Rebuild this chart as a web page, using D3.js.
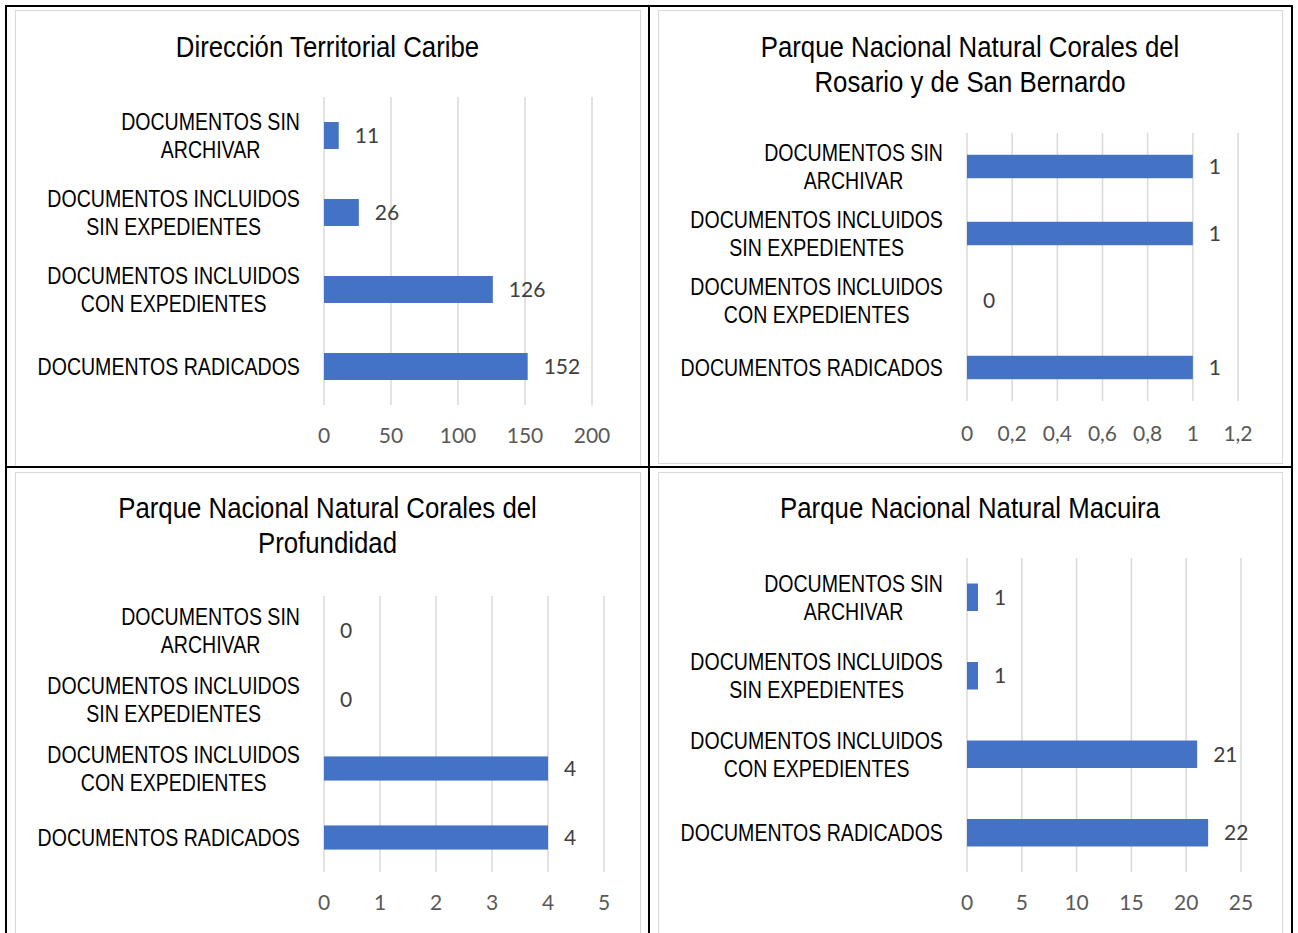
<!DOCTYPE html>
<html>
<head>
<meta charset="utf-8">
<script src="https://cdn.jsdelivr.net/npm/d3@7"></script>
<style>
  body { margin: 0; background: #fff; }
  svg { display: block; }
</style>
</head>
<body>
<div id="chart"></div>
<script>
// categories, top to bottom (split in lines the way the labels wrap)
const categories = [
  ["DOCUMENTOS SIN", "ARCHIVAR"],
  ["DOCUMENTOS INCLUIDOS", "SIN EXPEDIENTES"],
  ["DOCUMENTOS INCLUIDOS", "CON EXPEDIENTES"],
  ["DOCUMENTOS RADICADOS"]
];

// values per chart
const caribeValues = [11, 26, 126, 152];
const rosarioValues = [1, 1, 0, 1];
const profundidadValues = [0, 0, 4, 4];
const macuiraValues = [1, 1, 21, 22];

// tick labels
const caribeTicks = [0, 50, 100, 150, 200];
const rosarioTicks = [0, 0.2, 0.4, 0.6, 0.8, 1, 1.2];
const profundidadTicks = [0, 1, 2, 3, 4, 5];
const macuiraTicks = [0, 5, 10, 15, 20, 25];

// titles
const caribeTitle = ["Dirección Territorial Caribe"];
const rosarioTitle = ["Parque Nacional Natural Corales del", "Rosario y de San Bernardo"];
const profundidadTitle = ["Parque Nacional Natural Corales del", "Profundidad"];
const macuiraTitle = ["Parque Nacional Natural Macuira"];

const W = 1298, H = 933;
// Arial Narrow look: Liberation Sans squeezed horizontally
const narrow = "'Liberation Sans', Arial, sans-serif";
const tickFont = "Lato, Carlito, Calibri, 'Open Sans', sans-serif";
const commaFmt = (d) => String(d).replace(".", ",");

const svg = d3.select("#chart").append("svg")
  .attr("width", W).attr("height", H);

svg.append("rect").attr("width", W).attr("height", H).attr("fill", "#fff");

// layout of the four panels
const panels = [
  { title: caribeTitle, values: caribeValues, ticks: caribeTicks,
    box: [15, 10, 640, 466], titleY: 47, x: [324, 592], y: [97, 405], tickY: 436 },
  { title: rosarioTitle, values: rosarioValues, ticks: rosarioTicks,
    box: [658, 10, 1282, 463], titleY: 47, x: [967, 1238], y: [133, 401], tickY: 434 },
  { title: profundidadTitle, values: profundidadValues, ticks: profundidadTicks,
    box: [15, 472, 640, 960], titleY: 508, x: [324, 604], y: [596, 872], tickY: 903 },
  { title: macuiraTitle, values: macuiraValues, ticks: macuiraTicks,
    box: [658, 472, 1282, 960], titleY: 508, x: [967, 1241], y: [558, 872], tickY: 903 }
];

panels.forEach((p) => {
  const g = svg.append("g");

  // chart area border
  g.append("rect")
    .attr("x", p.box[0] + 0.5).attr("y", p.box[1] + 0.5)
    .attr("width", p.box[2] - p.box[0]).attr("height", p.box[3] - p.box[1])
    .attr("fill", "#fff").attr("stroke", "#d9d9d9").attr("stroke-width", 1);

  const cx = (p.box[0] + p.box[2]) / 2;
  g.selectAll(".title").data(p.title).enter()
    .append("text")
    .attr("transform", (d, i) => `translate(${cx},${p.titleY + i * 35}) scale(0.86,1)`)
    .attr("dy", "0.33em")
    .attr("text-anchor", "middle")
    .style("font-family", narrow)
    .style("font-size", "30px")
    .style("fill", "#000")
    .text((d) => d);

  const x = d3.scaleLinear()
    .domain([p.ticks[0], p.ticks[p.ticks.length - 1]])
    .range(p.x);
  const y = d3.scaleBand()
    .domain(d3.range(categories.length))
    .range(p.y)
    .paddingInner(0.65)
    .paddingOuter(0.325);

  // gridlines
  g.selectAll(".grid").data(p.ticks).enter()
    .append("line")
    .attr("x1", (d) => x(d)).attr("x2", (d) => x(d))
    .attr("y1", p.y[0]).attr("y2", p.y[1])
    .attr("stroke", "#d9d9d9").attr("stroke-width", 1.5);

  // tick labels
  g.selectAll(".tick").data(p.ticks).enter()
    .append("text")
    .attr("x", (d) => x(d))
    .attr("y", p.tickY)
    .attr("dy", "0.35em")
    .attr("text-anchor", "middle")
    .style("font-family", tickFont)
    .style("font-size", "21px")
    .style("fill", "#595959")
    .text(commaFmt);

  // bars
  g.selectAll(".bar").data(p.values).enter()
    .append("rect")
    .attr("x", x(0))
    .attr("y", (d, i) => y(i))
    .attr("width", (d) => x(d) - x(0))
    .attr("height", y.bandwidth())
    .attr("fill", "#4472c4");

  // data labels
  g.selectAll(".val").data(p.values).enter()
    .append("text")
    .attr("x", (d) => x(d) + 16)
    .attr("y", (d, i) => y(i) + y.bandwidth() / 2)
    .attr("dy", "0.35em")
    .style("font-family", tickFont)
    .style("font-size", "21px")
    .style("fill", "#404040")
    .text(commaFmt);

  // category labels: lines centred in a block right-aligned to the axis
  const sx = 0.85;
  categories.forEach((lines, i) => {
    const cy = y(i) + y.bandwidth() / 2;
    const texts = lines.map((line) => g.append("text")
      .attr("dy", "0.36em")
      .attr("text-anchor", "middle")
      .style("font-family", narrow)
      .style("font-size", "23px")
      .style("fill", "#000")
      .text(line));
    const blockW = d3.max(texts, (t) => t.node().getComputedTextLength()) * sx;
    const bx = p.x[0] - 24 - blockW / 2;
    texts.forEach((t, j) => t.attr("transform",
      `translate(${bx},${cy + (j - (lines.length - 1) / 2) * 28}) scale(${sx},1)`));
  });
});

// table borders
const borders = svg.append("g").attr("fill", "none").attr("stroke", "#000").attr("stroke-width", 2);
borders.append("rect").attr("x", 6).attr("y", 6).attr("width", 1286).attr("height", 960);
borders.append("line").attr("x1", 649).attr("x2", 649).attr("y1", 6).attr("y2", H);
borders.append("line").attr("x1", 6).attr("x2", 1292).attr("y1", 467).attr("y2", 467);
</script>
</body>
</html>
